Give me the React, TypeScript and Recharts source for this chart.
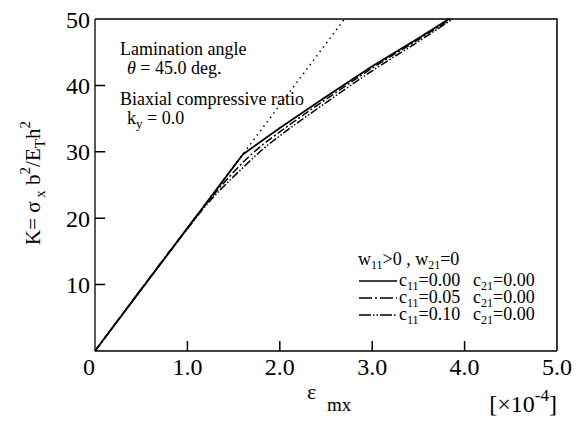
import { LineChart, Line, XAxis, YAxis } from 'recharts';

// strain eps_mx [x1e-4] vs load parameter K
const linearX = [0, 2.7];
const linearK = [0, 50];

const c000X = [0, 1.0, 1.6, 2.0, 2.5, 3.0, 3.5, 3.83];
const c000K = [0, 18.5, 29.6, 33.6, 38.3, 42.9, 47.1, 50];

const c005X = [0, 1.0, 1.2, 1.4, 1.6, 1.8, 2.0, 2.5, 3.0, 3.5, 3.85];
const c005K = [0, 18.5, 22.1, 25.4, 28.4, 30.9, 33.0, 37.9, 42.6, 46.9, 50];

const c010X = [0, 1.0, 1.2, 1.4, 1.6, 1.8, 2.0, 2.5, 3.0, 3.5, 3.87];
const c010K = [0, 18.4, 21.9, 24.9, 27.6, 30.2, 32.4, 37.4, 42.2, 46.6, 50];

const xTicks = [0, 1, 2, 3, 4, 5];
const yTicks = [10, 20, 30, 40, 50];
const legendC11 = ['0.00', '0.05', '0.10'];

const X_MAX = 5;
const K_MAX = 50;
// inward tick length in data units (about 10px)
const X_TICK_LEN = 0.11;
const K_TICK_LEN = 1.5;

const toPoints = (xs: number[], ks: number[]) => xs.map((x, i) => ({ x, k: ks[i] }));

// frame (top, right) and inward tick marks as one path, built from the tick lists
const framePath = [
  { x: 0, k: K_MAX }, { x: X_MAX, k: K_MAX }, { x: X_MAX, k: 0 },
  ...xTicks.slice(1, -1).reverse().flatMap(t => [{ x: t, k: null }, { x: t, k: 0 }, { x: t, k: K_TICK_LEN }]),
  ...yTicks.slice(0, -1).flatMap(t => [{ x: null, k: null }, { x: 0, k: t }, { x: X_TICK_LEN, k: t }]),
];

const FONT = "'Liberation Serif', 'Times New Roman', serif";

const XTick = (props: any) => {
  const { x, y, payload } = props;
  const v = payload.value;
  return (
    <text x={v === 0 ? x - 6 : x} y={y} dy="0.71em" textAnchor="middle" fill="#000"
      style={{ fontFamily: FONT, fontSize: 24 }}>
      {v === 0 ? '0' : v.toFixed(1)}
    </text>
  );
};

const YTick = (props: any) => {
  const { x, y, payload } = props;
  return (
    <text x={x} y={y} dy="0.355em" textAnchor="end" fill="#000" style={{ fontFamily: FONT, fontSize: 24 }}>
      {payload.value}
    </text>
  );
};

const App = () => {
  return (
    <div style={{ position: 'absolute', left: 0, top: 0, width: 585, height: 422, background: '#fff', fontFamily: FONT }}>
      <LineChart width={585} height={422} margin={{ top: 19, right: 28, left: 0, bottom: 0 }}>
        <XAxis
          type="number"
          dataKey="x"
          domain={[0, X_MAX]}
          ticks={xTicks}
          height={71}
          tickLine={false}
          tickSize={0}
          tickMargin={7}
          tick={XTick}
          stroke="#000"
          strokeWidth={1.3}
        />
        <YAxis
          type="number"
          dataKey="k"
          domain={[0, K_MAX]}
          ticks={yTicks}
          width={95}
          tickLine={false}
          tickSize={0}
          tickMargin={5}
          tick={YTick}
          stroke="#000"
          strokeWidth={1.3}
        />
        <Line data={framePath} dataKey="k" name="frame" type="linear" stroke="#000" strokeWidth={1.5}
          connectNulls={false} dot={false} activeDot={false} isAnimationActive={false} />
        <Line data={toPoints(linearX, linearK)} dataKey="k" name="linear" type="linear" stroke="#000" strokeWidth={1.5}
          strokeDasharray="1.5 4" dot={false} isAnimationActive={false} />
        <Line data={toPoints(c010X, c010K)} dataKey="k" name="c10" type="monotone" stroke="#000" strokeWidth={1.5}
          strokeDasharray="8 2 1.5 2 1.5 2" dot={false} isAnimationActive={false} />
        <Line data={toPoints(c005X, c005K)} dataKey="k" name="c05" type="monotone" stroke="#000" strokeWidth={1.5}
          strokeDasharray="8 2.5 2 2.5" dot={false} isAnimationActive={false} />
        <Line data={toPoints(c000X, c000K)} dataKey="k" name="c00" type="linear" stroke="#000" strokeWidth={1.8}
          dot={false} isAnimationActive={false} />
      </LineChart>
      <svg width={585} height={422} style={{ position: 'absolute', left: 0, top: 0, pointerEvents: 'none', fontFamily: FONT }}
        fill="#000">
        {/* y axis title */}
        <text transform="translate(40,183) rotate(-90)" textAnchor="middle" fontSize={21}>
          K= σ<tspan dy={5} fontSize={15}> x</tspan><tspan dy={-5}> b</tspan><tspan dy={-10} fontSize={15}>2</tspan>
          <tspan dy={10}>/E</tspan><tspan dy={5} fontSize={15}>T</tspan><tspan dy={-5}>h</tspan>
          <tspan dy={-10} fontSize={15}>2</tspan>
        </text>
        {/* x axis title */}
        <text x={307} y={399} fontSize={22}>ε</text>
        <text x={327} y={411} fontSize={19}>mx</text>
        <text x={557} y={412} textAnchor="end" fontSize={24}>
          [×10<tspan dy={-11} fontSize={17}>-4</tspan><tspan dy={11}>]</tspan>
        </text>
        {/* annotations */}
        <text x={120} y={55} fontSize={18}>Lamination angle</text>
        <text x={127} y={74} fontSize={18}><tspan fontStyle="italic">θ</tspan> = 45.0 deg.</text>
        <text x={120} y={105} fontSize={18}>Biaxial compressive ratio</text>
        <text x={127} y={124} fontSize={18}>k<tspan dy={4} fontSize={13}>y</tspan><tspan dy={-4}> = 0.0</tspan></text>
        {/* legend */}
        <text x={358} y={265} fontSize={18}>
          w<tspan dy={4} fontSize={12}>11</tspan><tspan dy={-4}>&gt;0 , w</tspan><tspan dy={4} fontSize={12}>21</tspan><tspan dy={-4}>=0</tspan>
        </text>
        <line x1={359} x2={397} y1={281} y2={281} stroke="#000" strokeWidth={1.6} />
        <line x1={359} x2={397} y1={298} y2={298} stroke="#000" strokeWidth={1.4} strokeDasharray="13 3 2 3" />
        <line x1={359} x2={397} y1={315} y2={315} stroke="#000" strokeWidth={1.4} strokeDasharray="12 2 1.5 2 1.5 2" />
        {legendC11.map((c, i) => (
          <g key={c}>
            <text x={399} y={286 + i * 17} fontSize={18}>
              c<tspan dy={4} fontSize={12}>11</tspan><tspan dy={-4}>={c}</tspan>
            </text>
            <text x={473} y={286 + i * 17} fontSize={18}>
              c<tspan dy={4} fontSize={12}>21</tspan><tspan dy={-4}>=0.00</tspan>
            </text>
          </g>
        ))}
      </svg>
    </div>
  );
};

export default App;
